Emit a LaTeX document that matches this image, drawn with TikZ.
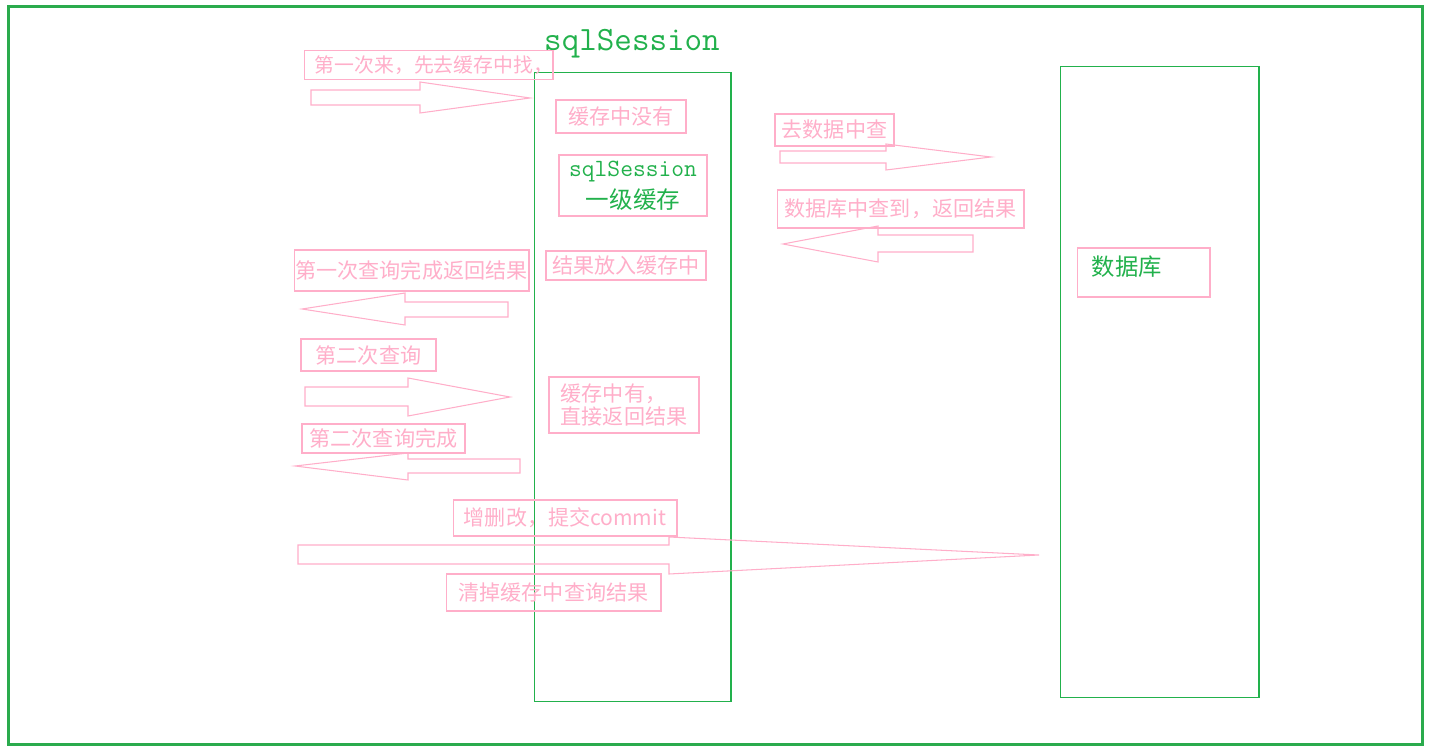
\documentclass[tikz,border=0pt]{standalone}
\usepackage{fontspec}
\newfontfamily\cjk{Noto Sans CJK SC}
\usetikzlibrary{positioning}

\definecolor{sessiongreen}{RGB}{34,177,76}
\definecolor{framegreen}{RGB}{42,171,77}
\definecolor{rose}{RGB}{255,174,201}

\begin{document}
\begin{tikzpicture}
	% Styles
	[
	x=0.02cm, y=-0.02cm,
	frame/.style={draw=framegreen,line width=1.7pt},
	lane/.style={draw=sessiongreen,line width=0.6pt,inner sep=0pt},
	note/.style={draw=rose,line width=0.6pt,inner sep=0pt,text=rose,font=\cjk\fontsize{12}{15}\selectfont},
	greennote/.style={note,text=sessiongreen},
	blockarrow/.style={draw=rose,line width=0.6pt,line join=miter},
	]

	% Frame
	\useasboundingbox (0,0) rectangle (1436,756);
	\draw[frame] (8.5,6.5) rectangle (1422.5,744.5);

	% Lanes
	\node at (632.5,387)	(session)	[lane,minimum width=3.94cm,minimum height=12.6cm]	{};
	\node at (1159.5,382)	(database)	[lane,minimum width=3.98cm,minimum height=12.64cm]	{};
	\node at (632,44)	(sessiontitle)	[text=sessiongreen,font=\ttfamily\fontsize{19.4}{22}\selectfont]	{sqlSession};

	% Nodes
	\node at (428.5,65)	(firstcome)	[note,font=\cjk\fontsize{11.3}{15}\selectfont,text width=4.98cm,align=right,minimum height=0.58cm]	{第一次来，先去缓存中找，};
	\node at (621,116.5)	(cachemiss)	[note,minimum width=2.6cm,minimum height=0.66cm]	{缓存中没有};
	\node at (633,185.5)	(cache)	[greennote,minimum width=2.96cm,minimum height=1.22cm,align=center]
		{{\ttfamily\fontsize{14.1}{16}\selectfont sqlSession}\\[3pt]{\fontsize{13.4}{16}\selectfont 一级缓存}};
	\node at (626,265.5)	(putcache)	[note,minimum width=3.2cm,minimum height=0.58cm]	{结果放入缓存中};
	\node at (411.5,270.5)	(firstdone)	[note,minimum width=4.7cm,minimum height=0.82cm]	{第一次查询完成返回结果};
	\node at (368.5,355)	(secondquery)	[note,minimum width=2.7cm,minimum height=0.64cm]	{第二次查询};
	\node at (624,405)	(cachehit)	[note,minimum width=3cm,minimum height=1.12cm,align=left]	{缓存中有，\\[-2pt]直接返回结果};
	\node at (383.5,438.5)	(seconddone)	[note,minimum width=3.26cm,minimum height=0.58cm]	{第二次查询完成};
	\node at (565,518)	(commit)	[note,minimum width=4.48cm,minimum height=0.72cm]	{增删改，提交commit};
	\node at (553.5,592.5)	(clear)	[note,minimum width=4.3cm,minimum height=0.74cm]	{清掉缓存中查询结果};
	\node at (834.5,130)	(gotodb)	[note,minimum width=2.38cm,minimum height=0.64cm]	{去数据中查};
	\node at (900.5,209)	(dbreturn)	[note,minimum width=4.94cm,minimum height=0.76cm]	{数据库中查到，返回结果};
	\node at (1143.5,272.5)	(dbbox)	[note,minimum width=2.66cm,minimum height=0.98cm]	{};
	\node at (1127,267)	(dblabel)	[text=sessiongreen,font=\cjk\fontsize{13.3}{16}\selectfont]	{数据库};

	% Arrows
	\draw[blockarrow] (311,90) -- (420,90) -- (420,82) -- (530,98) -- (420,113) -- (420,105) -- (311,105) -- cycle;
	\draw[blockarrow] (508,302) -- (405,302) -- (405,293) -- (302,309) -- (405,325) -- (405,317) -- (508,317) -- cycle;
	\draw[blockarrow] (305,387) -- (408,387) -- (408,378) -- (510,397) -- (408,416) -- (408,406) -- (305,406) -- cycle;
	\draw[blockarrow] (520,459) -- (408,459) -- (408,453) -- (295,466) -- (408,480) -- (408,473) -- (520,473) -- cycle;
	\draw[blockarrow] (298,545) -- (669,545) -- (669,537) -- (1039,555) -- (669,574) -- (669,564) -- (298,564) -- cycle;
	\draw[blockarrow] (780,151) -- (886,151) -- (886,144) -- (991,157) -- (886,170) -- (886,163) -- (780,163) -- cycle;
	\draw[blockarrow] (973,235) -- (878,235) -- (878,226) -- (783,244) -- (878,262) -- (878,252) -- (973,252) -- cycle;
\end{tikzpicture}
\end{document}
